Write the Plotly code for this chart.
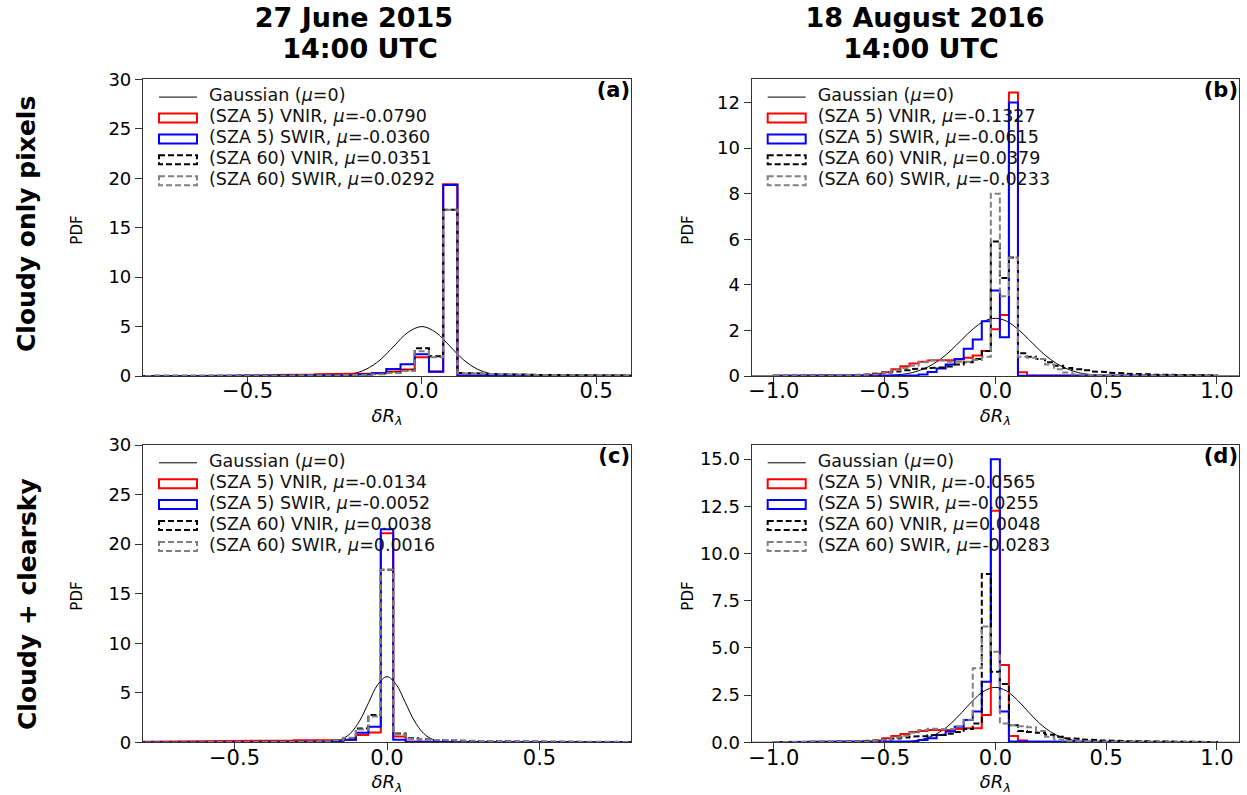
import numpy as np
import plotly.graph_objects as go

W, H = 1247, 795

# ---------------- data ----------------
# histogram bins: 49 bins between -1 and 1 (centres k*0.0408, k=-24..24)
bin_edges = np.linspace(-1.0, 1.0, 50)

# Panel (a): 27 June 2015, cloudy only pixels
a_red = [0.01]*10 + [0.02, 0.03, 0.05, 0.07, 0.10, 0.13, 0.16, 0.18, 0.20, 0.22] + \
        [0.25, 0.30, 0.45, 0.65, 1.90, 0.45, 19.4, 0.06, 0.03, 0.02] + \
        [0.02, 0.02, 0.02, 0.01, 0.01, 0.01, 0.01, 0.01, 0.01, 0.01] + [0.01]*9
a_blue = [0.01]*10 + [0.01, 0.01, 0.02, 0.02, 0.03, 0.03, 0.04, 0.05, 0.06, 0.08] + \
         [0.15, 0.27, 0.70, 1.20, 2.20, 0.43, 19.3, 0.03, 0.02, 0.01] + [0.01]*10 + [0.01]*9
a_black = [0.01, 0.01, 0.01, 0.01, 0.01, 0.01, 0.01, 0.02, 0.02, 0.02] + \
          [0.03, 0.03, 0.04, 0.05, 0.06, 0.07, 0.08, 0.09, 0.10, 0.12] + \
          [0.15, 0.20, 0.35, 0.55, 2.80, 2.00, 16.8, 0.30, 0.25, 0.20] + \
          [0.18, 0.15, 0.12, 0.10, 0.08, 0.07, 0.06, 0.05, 0.04, 0.04] + \
          [0.03, 0.03, 0.03, 0.02, 0.02, 0.02, 0.02, 0.01, 0.01]
a_gray = [0.01, 0.01, 0.01, 0.01, 0.01, 0.01, 0.01, 0.02, 0.02, 0.02] + \
         [0.02, 0.03, 0.03, 0.04, 0.05, 0.06, 0.07, 0.08, 0.09, 0.10] + \
         [0.12, 0.18, 0.30, 0.50, 2.50, 1.90, 16.8, 0.28, 0.24, 0.20] + \
         [0.17, 0.14, 0.12, 0.10, 0.08, 0.07, 0.06, 0.05, 0.04, 0.04] + \
         [0.03, 0.03, 0.03, 0.02, 0.02, 0.02, 0.02, 0.01, 0.01]

# Panel (b): 18 August 2016, cloudy only pixels
b_red = [0.01, 0.01, 0.01, 0.01, 0.01, 0.01, 0.01, 0.01, 0.02, 0.03] + \
        [0.05, 0.10, 0.17, 0.30, 0.43, 0.55, 0.63, 0.68, 0.68, 0.70] + \
        [0.72, 0.80, 0.90, 1.10, 2.05, 2.68, 12.44, 0.17, 0.03, 0.01] + [0.01]*10 + [0.01]*9
b_blue = [0.01]*10 + [0.01, 0.01, 0.01, 0.02, 0.02, 0.03, 0.07, 0.18, 0.33, 0.50] + \
         [0.75, 1.20, 1.60, 2.40, 3.75, 1.70, 12.0, 0.02, 0.01, 0.01] + [0.01]*10 + [0.01]*9
b_black = [0.01, 0.01, 0.01, 0.01, 0.01, 0.02, 0.02, 0.03, 0.04, 0.05] + \
          [0.07, 0.10, 0.15, 0.20, 0.25, 0.30, 0.33, 0.35, 0.38, 0.42] + \
          [0.50, 0.60, 0.75, 1.10, 5.90, 4.30, 5.20, 1.00, 0.85, 0.75] + \
          [0.60, 0.45, 0.35, 0.30, 0.25, 0.20, 0.17, 0.14, 0.12, 0.10] + \
          [0.08, 0.07, 0.06, 0.05, 0.04, 0.04, 0.03, 0.03, 0.02]
b_gray = [0.01, 0.01, 0.01, 0.01, 0.01, 0.01, 0.02, 0.02, 0.03, 0.04] + \
         [0.05, 0.08, 0.15, 0.25, 0.35, 0.45, 0.60, 0.70, 0.68, 0.62] + \
         [0.60, 0.62, 0.70, 0.85, 8.00, 3.50, 5.20, 0.85, 0.80, 0.75] + \
         [0.50, 0.30, 0.15, 0.08, 0.05, 0.04, 0.03, 0.03, 0.02, 0.02] + \
         [0.02, 0.01, 0.01, 0.01, 0.01, 0.01, 0.01, 0.01, 0.01]

# Panel (c): 27 June 2015, cloudy + clearsky
c_red = [0.01, 0.01, 0.01, 0.01, 0.01, 0.02, 0.02, 0.03, 0.04, 0.05] + \
        [0.06, 0.08, 0.10, 0.12, 0.14, 0.16, 0.18, 0.20, 0.22, 0.24] + \
        [0.20, 0.23, 0.74, 1.00, 21.1, 0.58, 0.10, 0.05, 0.03, 0.02] + \
        [0.02, 0.02, 0.01, 0.01, 0.01, 0.01, 0.01, 0.01, 0.01, 0.01] + [0.01]*9
c_blue = [0.01]*10 + [0.01, 0.01, 0.01, 0.02, 0.02, 0.03, 0.03, 0.04, 0.05, 0.06] + \
         [0.10, 0.25, 0.97, 1.58, 21.5, 0.25, 0.05, 0.02, 0.01, 0.01] + [0.01]*10 + [0.01]*9
c_black = [0.01]*10 + [0.01, 0.02, 0.02, 0.03, 0.04, 0.05, 0.06, 0.07, 0.08, 0.10] + \
          [0.20, 0.40, 1.40, 2.75, 17.4, 0.90, 0.40, 0.30, 0.22, 0.18] + \
          [0.15, 0.13, 0.11, 0.10, 0.09, 0.08, 0.07, 0.06, 0.05, 0.05] + \
          [0.04, 0.04, 0.03, 0.03, 0.03, 0.02, 0.02, 0.02, 0.01]
c_gray = [0.01]*10 + [0.01, 0.02, 0.02, 0.03, 0.04, 0.05, 0.06, 0.07, 0.08, 0.10] + \
         [0.20, 0.45, 1.30, 2.60, 17.4, 0.80, 0.35, 0.30, 0.25, 0.20] + \
         [0.17, 0.15, 0.13, 0.11, 0.10, 0.09, 0.08, 0.07, 0.06, 0.05] + \
         [0.04, 0.04, 0.03, 0.03, 0.03, 0.02, 0.02, 0.02, 0.01]

# Panel (d): 18 August 2016, cloudy + clearsky
d_red = [0.01]*8 + [0.02, 0.03] + \
        [0.04, 0.10, 0.21, 0.34, 0.44, 0.55, 0.60, 0.65, 0.65, 0.65] + \
        [0.70, 0.74, 0.74, 1.45, 12.27, 4.10, 0.34, 0.10, 0.03, 0.01] + [0.01]*10 + [0.01]*9
d_blue = [0.01]*10 + [0.01, 0.01, 0.01, 0.02, 0.03, 0.05, 0.12, 0.21, 0.39, 0.57] + \
         [0.83, 1.18, 1.63, 3.21, 15.0, 1.63, 0.05, 0.01, 0.01, 0.01] + [0.01]*10 + [0.01]*9
d_black = [0.01, 0.01, 0.01, 0.01, 0.01, 0.02, 0.02, 0.03, 0.04, 0.05] + \
          [0.07, 0.10, 0.15, 0.20, 0.25, 0.30, 0.33, 0.37, 0.40, 0.45] + \
          [0.55, 0.70, 1.00, 8.92, 3.74, 3.09, 0.90, 0.60, 0.55, 0.50] + \
          [0.40, 0.30, 0.22, 0.18, 0.15, 0.12, 0.10, 0.08, 0.07, 0.06] + \
          [0.05, 0.04, 0.04, 0.03, 0.03, 0.02, 0.02, 0.02, 0.01]
d_gray = [0.01, 0.01, 0.01, 0.01, 0.01, 0.01, 0.01, 0.02, 0.03, 0.04] + \
         [0.05, 0.08, 0.15, 0.25, 0.35, 0.50, 0.65, 0.72, 0.70, 0.70] + \
         [0.85, 1.20, 3.92, 6.13, 4.80, 1.00, 0.90, 0.85, 0.80, 0.60] + \
         [0.30, 0.15, 0.08, 0.05, 0.04, 0.03, 0.03, 0.02, 0.02, 0.02] + \
         [0.01]*9

# Gaussian curves
a_gx = [-0.8, -0.4, -0.3, -0.25, -0.2, -0.16, -0.12, -0.08, -0.04, 0, 0.04, 0.08, 0.12, 0.16, 0.2, 0.25, 0.3, 0.4, 0.6]
a_gy = [0, 0, 0.004, 0.038, 0.22, 0.68, 1.62, 3.03, 4.41, 5.0, 4.41, 3.03, 1.62, 0.68, 0.22, 0.038, 0.004, 0, 0]
b_gx = [-1.1, -0.8, -0.6, -0.5, -0.4, -0.35, -0.3, -0.25, -0.2, -0.15, -0.1, -0.05, 0,
        0.05, 0.1, 0.15, 0.2, 0.25, 0.3, 0.35, 0.4, 0.5, 0.6, 0.8, 1.1]
b_gy = [0, 0, 0.002, 0.017, 0.10, 0.22, 0.42, 0.72, 1.13, 1.61, 2.07, 2.41, 2.53,
        2.41, 2.07, 1.61, 1.13, 0.72, 0.42, 0.22, 0.10, 0.017, 0.002, 0, 0]
c_gx = [-0.8, -0.3, -0.22, -0.18, -0.15, -0.12, -0.09, -0.06, -0.03, 0,
        0.03, 0.06, 0.09, 0.12, 0.15, 0.18, 0.22, 0.3, 0.8]
c_gy = [0, 0, 0.008, 0.073, 0.29, 0.90, 2.15, 4.02, 5.84, 6.62,
        5.84, 4.02, 2.15, 0.90, 0.29, 0.073, 0.008, 0, 0]
d_gx = [-1.1, -0.7, -0.5, -0.4, -0.35, -0.3, -0.25, -0.2, -0.15, -0.1, -0.05, 0,
        0.05, 0.1, 0.15, 0.2, 0.25, 0.3, 0.35, 0.4, 0.5, 0.7, 1.1]
d_gy = [0, 0, 0.0013, 0.041, 0.11, 0.26, 0.55, 1.00, 1.60, 2.23, 2.72, 2.91,
        2.72, 2.23, 1.60, 1.00, 0.55, 0.26, 0.11, 0.041, 0.0013, 0, 0]

# legend labels
legend_a = ["Gaussian (<i>μ</i>=0)", "(SZA 5) VNIR, <i>μ</i>=-0.0790", "(SZA 5) SWIR, <i>μ</i>=-0.0360",
            "(SZA 60) VNIR, <i>μ</i>=0.0351", "(SZA 60) SWIR, <i>μ</i>=0.0292"]
legend_b = ["Gaussian (<i>μ</i>=0)", "(SZA 5) VNIR, <i>μ</i>=-0.1327", "(SZA 5) SWIR, <i>μ</i>=-0.0615",
            "(SZA 60) VNIR, <i>μ</i>=0.0379", "(SZA 60) SWIR, <i>μ</i>=-0.0233"]
legend_c = ["Gaussian (<i>μ</i>=0)", "(SZA 5) VNIR, <i>μ</i>=-0.0134", "(SZA 5) SWIR, <i>μ</i>=-0.0052",
            "(SZA 60) VNIR, <i>μ</i>=0.0038", "(SZA 60) SWIR, <i>μ</i>=0.0016"]
legend_d = ["Gaussian (<i>μ</i>=0)", "(SZA 5) VNIR, <i>μ</i>=-0.0565", "(SZA 5) SWIR, <i>μ</i>=-0.0255",
            "(SZA 60) VNIR, <i>μ</i>=0.0048", "(SZA 60) SWIR, <i>μ</i>=-0.0283"]
panel_tags = ["(a)", "(b)", "(c)", "(d)"]
col_titles = [("27 June 2015", "14:00 UTC"), ("18 August 2016", "14:00 UTC")]
row_titles = ["Cloudy only pixels", "Cloudy + clearsky"]

x_ticks_small = [-0.5, 0.0, 0.5]
x_ticktext_small = ["−0.5", "0.0", "0.5"]
x_ticks_wide = [-1.0, -0.5, 0.0, 0.5, 1.0]
x_ticktext_wide = ["−1.0", "−0.5", "0.0", "0.5", "1.0"]
y_ticks_30 = [0, 5, 10, 15, 20, 25, 30]
y_ticks_12 = [0, 2, 4, 6, 8, 10, 12]
y_ticks_15 = [0, 2.5, 5, 7.5, 10, 12.5, 15]
y_ticktext_15 = ["0.0", "2.5", "5.0", "7.5", "10.0", "12.5", "15.0"]

# ---------------- layout geometry (pixels) ----------------
panels = [
    dict(ax="", hists=(a_red, a_blue, a_black, a_gray), g=(a_gx, a_gy), leg=legend_a,
         box=(143, 631, 79.3, 376), xr=[-0.8, 0.6], yr=[0, 30],
         xt=(x_ticks_small, x_ticktext_small), yt=(y_ticks_30, [str(v) for v in y_ticks_30]), pdfx=77),
    dict(ax="2", hists=(b_red, b_blue, b_black, b_gray), g=(b_gx, b_gy), leg=legend_b,
         box=(751.7, 1239, 79.3, 376), xr=[-1.1, 1.1], yr=[0, 13.02],
         xt=(x_ticks_wide, x_ticktext_wide), yt=(y_ticks_12, [str(v) for v in y_ticks_12]), pdfx=688),
    dict(ax="3", hists=(c_red, c_blue, c_black, c_gray), g=(c_gx, c_gy), leg=legend_c,
         box=(143, 631, 445, 742.3), xr=[-0.8, 0.8], yr=[0, 30],
         xt=(x_ticks_small, x_ticktext_small), yt=(y_ticks_30, [str(v) for v in y_ticks_30]), pdfx=77),
    dict(ax="4", hists=(d_red, d_blue, d_black, d_gray), g=(d_gx, d_gy), leg=legend_d,
         box=(751.7, 1239, 445, 742.3), xr=[-1.1, 1.1], yr=[0, 15.75],
         xt=(x_ticks_wide, x_ticktext_wide), yt=(y_ticks_15, y_ticktext_15), pdfx=688),
]

styles = [
    dict(color="#ff0000", width=2, dash="solid"),
    dict(color="#0000ff", width=2, dash="solid"),
    dict(color="#000000", width=2, dash="6px,3px"),
    dict(color="#808080", width=2, dash="6px,3px"),
]

FONT = "DejaVu Sans"


def px(x):
    return x / W


def py(y):
    return 1 - y / H


def step_path(edges, heights):
    xs, ys = [edges[0]], [0]
    for i, v in enumerate(heights):
        xs += [edges[i], edges[i + 1]]
        ys += [v, v]
    xs.append(edges[-1])
    ys.append(0)
    return xs, ys


fig = go.Figure()
shapes, annotations = [], []
layout = dict(width=W, height=H, autosize=False, margin=dict(l=0, r=0, t=0, b=0, pad=0),
              paper_bgcolor="white", plot_bgcolor="rgba(0,0,0,0)", showlegend=False,
              font=dict(family=FONT, color="black"))

# overlay axis in pixel coordinates for horizontal texts
layout["xaxis5"] = dict(domain=[0, 1], range=[0, W], visible=False, fixedrange=True, anchor="y5")
layout["yaxis5"] = dict(domain=[0, 1], range=[H, 0], visible=False, fixedrange=True, anchor="x5")


def add_text(x, y, txt, size, pos="middle center", color="black"):
    fig.add_trace(go.Scatter(x=[x], y=[y], text=[txt], mode="text", textposition=pos,
                             textfont=dict(family=FONT, size=size, color=color), cliponaxis=False,
                             xaxis="x5", yaxis="y5", hoverinfo="skip"))


for i, p in enumerate(panels):
    L, R, T, B = p["box"]
    xa, ya = "x" + p["ax"], "y" + p["ax"]
    gx, gy = p["g"]
    fig.add_trace(go.Scatter(x=gx, y=gy, mode="lines", line=dict(color="black", width=1, shape="spline"),
                             xaxis=xa, yaxis=ya, hoverinfo="skip"))
    for h, st in zip(p["hists"], styles):
        xs, ys = step_path(bin_edges, h)
        fig.add_trace(go.Scatter(x=xs, y=ys, mode="lines", line=st, xaxis=xa, yaxis=ya, hoverinfo="skip"))

    axis_common = dict(showline=True, mirror=True, linecolor="#333333", linewidth=1.2,
                       ticks="outside", ticklen=7, tickwidth=1.2, tickcolor="#333333",
                       showgrid=False, zeroline=False, automargin=False, fixedrange=True)
    layout["xaxis" + p["ax"]] = dict(axis_common, domain=[px(L), px(R)], range=p["xr"],
                                     anchor=ya, tickmode="array", tickvals=p["xt"][0],
                                     ticktext=p["xt"][1], ticklabelstandoff=-11,
                                     tickfont=dict(size=21, family=FONT, color="black"))
    layout["yaxis" + p["ax"]] = dict(axis_common, domain=[py(B), py(T)], range=p["yr"],
                                     anchor=xa, tickmode="array", tickvals=p["yt"][0],
                                     ticktext=p["yt"][1], tickfont=dict(size=18, family=FONT, color="black"))

    # manual legend
    for j, lab in enumerate(p["leg"]):
        yc = T + 17.8 + 20.9 * j
        if j == 0:
            shapes.append(dict(type="line", xref="paper", yref="paper", x0=px(L + 16), x1=px(L + 54),
                               y0=py(yc), y1=py(yc), line=dict(color="black", width=1)))
        else:
            st = styles[j - 1]
            shapes.append(dict(type="rect", xref="paper", yref="paper", x0=px(L + 16), x1=px(L + 54),
                               y0=py(yc - 4.5), y1=py(yc + 4.5), line=st, fillcolor="rgba(0,0,0,0)"))
        add_text(L + 66, yc, lab, 17.5, pos="middle right", color="#111111")
    # panel tag
    add_text(R - 1, T + 12.5, "<b>" + panel_tags[i] + "</b>", 21, pos="middle left")
    # x label
    add_text((L + R) / 2, B + 41, "<i>δR</i><sub><i>λ</i></sub>", 18)
    # y label (rotated)
    annotations.append(dict(text="PDF", xref="paper", yref="paper", x=px(p["pdfx"]),
                            y=py((T + B) / 2 + 3), xanchor="center", yanchor="middle", textangle=-90,
                            showarrow=False, font=dict(size=15, family=FONT, color="black")))

# column titles
for (l1, l2), cx1, cx2 in zip(col_titles, [354, 925], [360, 921]):
    add_text(cx1, 20, "<b>" + l1 + "</b>", 27)
    add_text(cx2, 51, "<b>" + l2 + "</b>", 27)

# row titles (rotated)
for txt, cy in zip(row_titles, [224, 604]):
    annotations.append(dict(text="<b>" + txt + "</b>", xref="paper", yref="paper", x=px(27), y=py(cy),
                            xanchor="center", yanchor="middle", textangle=-90, showarrow=False,
                            font=dict(size=25, family=FONT, color="black")))

layout["shapes"] = shapes
layout["annotations"] = annotations
fig.update_layout(**layout)
fig.write_html("out.html", config={"displayModeBar": False},
               post_script="document.body.style.margin='0';")
